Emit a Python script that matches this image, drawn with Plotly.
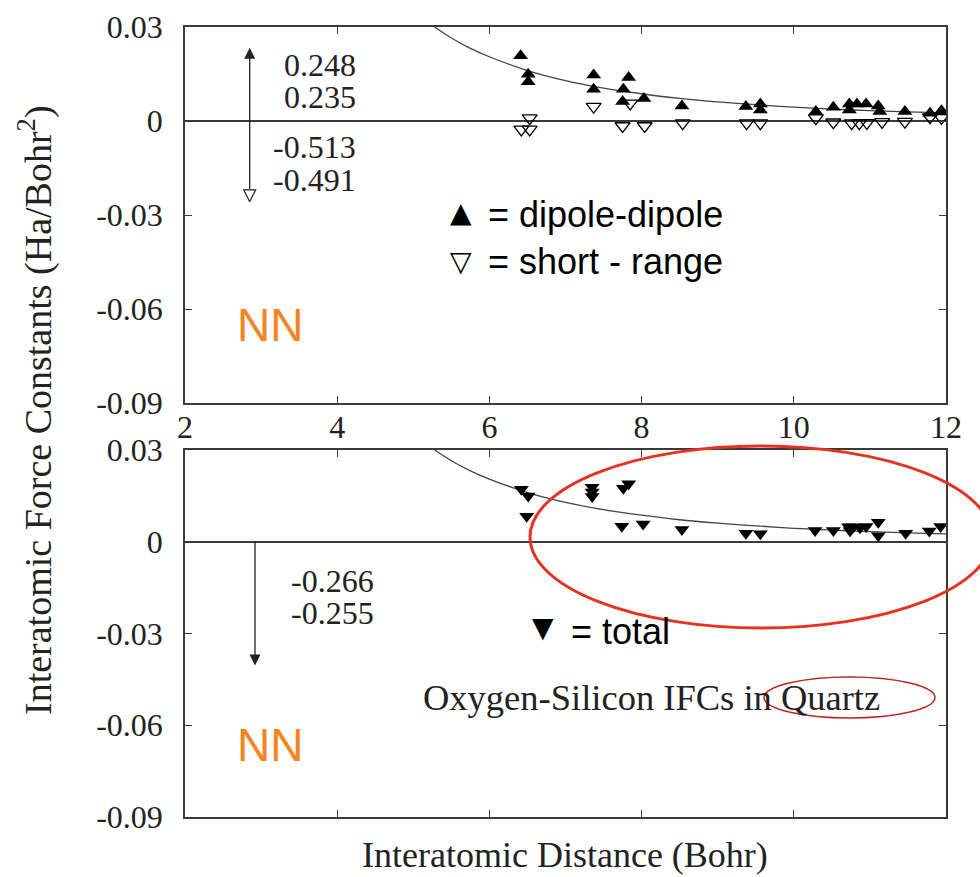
import plotly.graph_objects as go

# ---- data (Ha/Bohr^2 vs Bohr) ----
# dipole-dipole contribution (filled up-triangles)
dd_x = [6.41, 6.51, 6.51, 7.37, 7.37, 7.83, 7.76, 7.75, 8.03, 8.53,
        9.37, 9.56, 9.56, 10.29, 10.52, 10.73, 10.73, 10.83, 10.95, 11.11,
        11.13, 11.46, 11.79, 11.94]
dd_y = [0.0208, 0.0149, 0.0125, 0.0147, 0.0101, 0.0139, 0.0101, 0.0062, 0.0072, 0.0048,
        0.0046, 0.0054, 0.0035, 0.0030, 0.0044, 0.0054, 0.0035, 0.0054, 0.0054, 0.0048,
        0.0030, 0.0030, 0.0025, 0.0033]

# short-range contribution (open down-triangles)
sr_x = [6.42, 6.53, 6.53, 7.37, 7.85, 7.75, 8.04, 8.54, 9.38, 9.56,
        10.29, 10.52, 10.76, 10.86, 10.96, 11.16, 11.46, 11.79, 11.94]
sr_y = [-0.0027, -0.0027, 0.0009, 0.0046, 0.0056, -0.0016, -0.0016, -0.0007, -0.0007, -0.0007,
        0.0009, -0.0004, -0.0007, -0.0007, -0.0006, -0.0003, -0.0002, 0.0012, 0.0010]

# total IFC (filled down-triangles)
tot_x = [6.42, 6.51, 6.49, 7.35, 7.35, 7.35, 7.83, 7.76, 7.74, 8.02,
         8.53, 9.37, 9.56, 10.28, 10.52, 10.72, 10.78, 10.87, 10.95, 10.74,
         11.11, 11.11, 11.47, 11.78, 11.93]
tot_y = [0.0172, 0.0150, 0.0083, 0.0178, 0.0163, 0.0148, 0.0190, 0.0175, 0.0051, 0.0058,
         0.0040, 0.0028, 0.0026, 0.0037, 0.0037, 0.0049, 0.0049, 0.0046, 0.0050, 0.0036,
         0.0064, 0.0020, 0.0028, 0.0035, 0.0050]

# guide curve through the dipole-dipole decay
fit_x = [5.28, 5.5, 5.75, 6.0, 6.5, 7.0, 7.5, 8.0, 8.5, 9.0, 9.5, 10.0, 10.5, 11.0, 11.5, 12.0]
fit_y = [0.0300, 0.0265, 0.0232, 0.0205, 0.0161, 0.0129, 0.0105, 0.0087, 0.0072, 0.0061,
         0.0052, 0.0044, 0.0038, 0.0033, 0.0029, 0.0026]

y_ticks = [0.03, 0.0, -0.03, -0.06, -0.09]
y_ticktext = ["0.03", "0", "-0.03", "-0.06", "-0.09"]
x_ticks = [2, 4, 6, 8, 10, 12]
x_ticktext = ["2", "4", "6", "8", "10", "12"]

nn_top = ["0.248", "0.235", "-0.513", "-0.491"]
nn_bot = ["-0.266", "-0.255"]

W, H = 980, 877
SERIF = "Liberation Serif, Times New Roman, serif"
SANS = "Liberation Sans, Arial, sans-serif"
INK = "#222222"
AX = "#3a3a3a"


def px(x):
    return x / W


def py(y):
    return 1 - y / H


fig = go.Figure()

mk = dict(color="black", size=13)
# top panel
fig.add_trace(go.Scatter(x=fit_x, y=fit_y, mode="lines", line=dict(color="#444", width=1.3, shape="spline"),
                         xaxis="x", yaxis="y", showlegend=False, hoverinfo="skip"))
fig.add_trace(go.Scatter(x=sr_x, y=sr_y, mode="markers",
                         marker=dict(symbol="triangle-down-open", size=13, color="black", line=dict(width=1.3)),
                         xaxis="x", yaxis="y", showlegend=False))
fig.add_trace(go.Scatter(x=dd_x, y=dd_y, mode="markers", marker=dict(symbol="triangle-up", **mk),
                         xaxis="x", yaxis="y", showlegend=False))
# bottom panel
fig.add_trace(go.Scatter(x=fit_x, y=fit_y, mode="lines", line=dict(color="#444", width=1.3, shape="spline"),
                         xaxis="x2", yaxis="y2", showlegend=False, hoverinfo="skip"))
fig.add_trace(go.Scatter(x=tot_x, y=tot_y, mode="markers", marker=dict(symbol="triangle-down", **mk),
                         xaxis="x2", yaxis="y2", showlegend=False))

# pointer in the top panel: filled head up, open head down
fig.add_trace(go.Scatter(x=[2.85, 2.85], y=[-0.0218, 0.0225], mode="lines",
                         line=dict(color="#222", width=1.3), xaxis="x", yaxis="y",
                         showlegend=False, hoverinfo="skip"))
fig.add_trace(go.Scatter(x=[2.85], y=[0.0234], mode="markers",
                         marker=dict(symbol="arrow-up", size=11, color="#222"),
                         xaxis="x", yaxis="y", showlegend=False, hoverinfo="skip"))
fig.add_trace(go.Scatter(x=[2.85], y=[-0.0258], mode="markers",
                         marker=dict(symbol="arrow-down-open", size=12, color="#222", line=dict(width=1.2)),
                         xaxis="x", yaxis="y", showlegend=False, hoverinfo="skip"))
# pointer in the bottom panel towards the off-scale total
fig.add_trace(go.Scatter(x=[2.92, 2.92], y=[0.0, -0.0390], mode="lines",
                         line=dict(color="#222", width=1.3), xaxis="x2", yaxis="y2",
                         showlegend=False, hoverinfo="skip"))
fig.add_trace(go.Scatter(x=[2.92], y=[-0.0405], mode="markers",
                         marker=dict(symbol="arrow-down", size=11, color="#222"),
                         xaxis="x2", yaxis="y2", showlegend=False, hoverinfo="skip"))

axis_common = dict(
    showline=True, linecolor=AX, linewidth=1.5, mirror="ticks",
    ticks="inside", ticklen=7, tickwidth=1.3, tickcolor=AX,
    showgrid=False, zeroline=False, automargin=False,
    tickfont=dict(family=SERIF, size=32, color=INK),
)

xd = [px(185), px(946)]
fig.update_layout(
    width=W, height=H,
    margin=dict(l=0, r=0, t=0, b=0, autoexpand=False),
    paper_bgcolor="white", plot_bgcolor="white",
    xaxis=dict(domain=xd, range=[2, 12], tickvals=x_ticks, ticktext=x_ticktext, anchor="y",
               ticklabelstandoff=-5, **axis_common),
    yaxis=dict(domain=[py(403), py(27)], range=[-0.09, 0.03], tickvals=y_ticks, ticktext=y_ticktext,
               anchor="x", ticklabelstandoff=14, **{**axis_common, "zeroline": True},
               zerolinecolor=AX, zerolinewidth=1.5),
    xaxis2=dict(domain=xd, range=[2, 12], tickvals=x_ticks, showticklabels=False, anchor="y2",
                **axis_common),
    yaxis2=dict(domain=[py(817), py(450)], range=[-0.09, 0.03], tickvals=y_ticks, ticktext=y_ticktext,
                anchor="x2", ticklabelstandoff=14, **{**axis_common, "zeroline": True},
                zerolinecolor=AX, zerolinewidth=1.5),
)

ann = []


def text(x, y, s, size, family=SERIF, color=INK, xanchor="center", textangle=0):
    ann.append(dict(x=px(x), y=py(y), xref="paper", yref="paper", text=s, showarrow=False,
                    xanchor=xanchor, yanchor="middle", textangle=textangle,
                    font=dict(family=family, size=size, color=color)))


# axis titles
text(565, 855, "Interatomic Distance (Bohr)", 36)
text(36, 410, "Interatomic Force Constants (Ha/Bohr<sup>2</sup>)", 38, textangle=-90)

# nearest-neighbour values off the scale
for s, y in zip(nn_top, [65, 97, 147, 180]):
    text(358, y, s, 32, xanchor="right")
for s, y in zip(nn_bot, [581, 613]):
    text(376, y, s, 32, xanchor="right")

# NN labels
ORANGE = "#F5841F"
NARROW = "Liberation Sans Narrow, Arial Narrow, Liberation Sans, sans-serif"
text(270, 325, "NN", 46, family=NARROW, color=ORANGE)
text(270, 745, "NN", 46, family=NARROW, color=ORANGE)

# symbol keys
text(461, 212, "▲", 28, family="DejaVu Sans", color="black")
text(486, 215, "= dipole-dipole", 36, family=SANS, color="black", xanchor="left")
text(461, 261, "▽", 28, family="DejaVu Sans", color="black")
text(486, 262, "= short - range", 36, family=SANS, color="black", xanchor="left")
text(543, 627, "▼", 28, family="DejaVu Sans", color="black")
text(569, 631, "= total", 36, family=SANS, color="black", xanchor="left")

# caption in the lower panel
text(651, 697, "Oxygen-Silicon IFCs in Quartz", 36.5)

fig.update_layout(annotations=ann)

# red highlight ellipses
fig.add_shape(type="circle", xref="paper", yref="paper",
              x0=px(530), x1=px(992), y0=py(628), y1=py(446),
              line=dict(color="#E8321F", width=3))
fig.add_shape(type="circle", xref="paper", yref="paper",
              x0=px(764), x1=px(935), y0=py(718), y1=py(677),
              line=dict(color="#B8281E", width=1.5))

fig.write_html("out.html")
